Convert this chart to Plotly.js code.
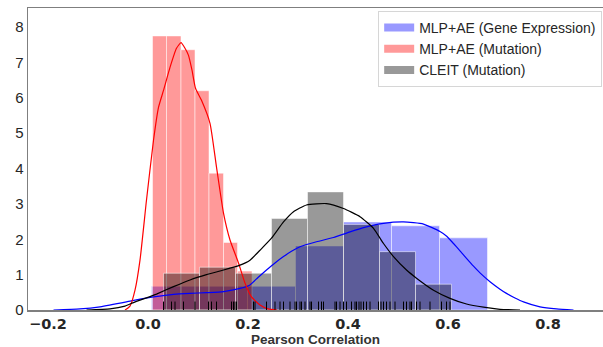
<!DOCTYPE html>
<html>
<head>
<meta charset="utf-8">
<script src="https://cdn.plot.ly/plotly-3.0.1.min.js"></script>
<style>html,body{margin:0;padding:0;background:#fff;}#chart{width:603px;height:347px;}</style>
</head>
<body>
<div id="chart"></div>
<script>
// ---- data ----
const seriesNames = ["MLP+AE (Gene Expression)", "MLP+AE (Mutation)", "CLEIT (Mutation)"];

// histogram bin edges and densities
const geneEdges = [0.007, 0.103, 0.199, 0.295, 0.391, 0.487, 0.583, 0.679];
const geneHeights = [0.67, 0.67, 0.67, 1.81, 2.49, 2.38, 2.04];

const mutEdges = [0.009, 0.037, 0.066, 0.094, 0.122, 0.151, 0.179, 0.208];
const mutHeights = [7.75, 7.75, 7.36, 6.20, 3.87, 1.91, 1.10];

const cleitEdges = [0.031, 0.103, 0.175, 0.247, 0.319, 0.391, 0.463, 0.535, 0.607];
const cleitHeights = [1.04, 1.21, 1.04, 2.59, 3.34, 2.42, 1.65, 0.73];

// KDE curves
const geneKdeX = [-0.189, -0.136, -0.096, -0.043, -0.016, 0.011, 0.051, 0.084, 0.117, 0.151, 0.184, 0.204, 0.220, 0.237, 0.254, 0.271, 0.287, 0.304, 0.337, 0.371, 0.404, 0.437, 0.471, 0.511, 0.551, 0.584, 0.598, 0.611, 0.624, 0.637, 0.651, 0.664, 0.684, 0.704, 0.717, 0.734, 0.751, 0.784, 0.817, 0.851];
const geneKdeY = [0, 0.03, 0.09, 0.23, 0.31, 0.37, 0.44, 0.47, 0.49, 0.52, 0.61, 0.71, 0.92, 1.13, 1.33, 1.51, 1.66, 1.79, 1.93, 2.05, 2.21, 2.35, 2.45, 2.49, 2.43, 2.22, 2.08, 1.88, 1.67, 1.46, 1.24, 1.05, 0.80, 0.59, 0.47, 0.34, 0.23, 0.09, 0.03, 0];

const mutKdeX = [-0.046, -0.036, -0.026, -0.016, -0.003, 0.011, 0.021, 0.031, 0.044, 0.057, 0.066, 0.074, 0.081, 0.088, 0.095, 0.107, 0.124, 0.137, 0.151, 0.164, 0.181, 0.194, 0.207, 0.224, 0.240, 0.258];
const mutKdeY = [0, 0.11, 0.56, 1.41, 3.11, 4.80, 5.73, 6.21, 6.86, 7.40, 7.56, 7.40, 7.20, 6.78, 6.27, 5.93, 5.28, 4.04, 2.74, 1.98, 1.33, 0.76, 0.37, 0.14, 0.03, 0];

const cleitKdeX = [-0.123, -0.076, -0.046, -0.029, -0.016, 0.004, 0.017, 0.051, 0.084, 0.117, 0.151, 0.184, 0.204, 0.224, 0.247, 0.271, 0.291, 0.317, 0.357, 0.391, 0.424, 0.451, 0.471, 0.491, 0.517, 0.537, 0.571, 0.604, 0.637, 0.671, 0.704, 0.744];
const cleitKdeY = [0, 0.03, 0.11, 0.21, 0.28, 0.38, 0.45, 0.66, 0.85, 1.00, 1.13, 1.27, 1.41, 1.69, 2.03, 2.49, 2.78, 2.97, 3.01, 2.87, 2.64, 2.31, 1.88, 1.51, 1.13, 0.90, 0.56, 0.33, 0.17, 0.08, 0.02, 0];

// rug (CLEIT mutation observations)
const cleitRug = [0.031, 0.047, 0.054, 0.071, 0.094, 0.121, 0.127, 0.137, 0.167, 0.171, 0.174, 0.177, 0.211, 0.214, 0.237, 0.254, 0.264, 0.271, 0.284, 0.294, 0.297, 0.304, 0.307, 0.314, 0.324, 0.327, 0.341, 0.347, 0.351, 0.374, 0.377, 0.384, 0.391, 0.397, 0.407, 0.414, 0.417, 0.422, 0.426, 0.431, 0.437, 0.444, 0.461, 0.466, 0.471, 0.477, 0.484, 0.494, 0.511, 0.517, 0.524, 0.527, 0.537, 0.544, 0.564, 0.587, 0.597, 0.604];

const xTickVals = [-0.2, 0.0, 0.2, 0.4, 0.6, 0.8];
const xTickText = ["\u22120.2", "0.0", "0.2", "0.4", "0.6", "0.8"];
const yTickVals = [0, 1, 2, 3, 4, 5, 6, 7, 8];

// ---- styling ----
const fillColors = ["rgba(0,0,255,0.4)", "rgba(255,0,0,0.4)", "rgba(0,0,0,0.4)"];
const lineColors = ["#0000ff", "#ff0000", "#000000"];

function histTrace(edges, heights, color) {
  const x = [], w = [];
  for (let i = 0; i < heights.length; i++) {
    x.push((edges[i] + edges[i + 1]) / 2);
    w.push(edges[i + 1] - edges[i]);
  }
  return {
    type: "bar", x: x, y: heights, width: w, showlegend: false, hoverinfo: "skip",
    marker: { color: color, line: { color: "rgba(255,255,255,0.5)", width: 1 } }
  };
}
function kdeTrace(x, y, color) {
  return { type: "scatter", mode: "lines", x: x, y: y, showlegend: false, hoverinfo: "skip",
           line: { color: color, width: 1.2, shape: "spline", smoothing: 0.5 } };
}
function legendTrace(name, color) {
  return { type: "scatter", mode: "lines", x: [null], y: [null], name: name,
           line: { color: color, width: 8 } };
}

const data = [
  histTrace(geneEdges, geneHeights, fillColors[0]),
  histTrace(mutEdges, mutHeights, fillColors[1]),
  histTrace(cleitEdges, cleitHeights, fillColors[2]),
  kdeTrace(geneKdeX, geneKdeY, lineColors[0]),
  kdeTrace(mutKdeX, mutKdeY, lineColors[1]),
  kdeTrace(cleitKdeX, cleitKdeY, lineColors[2]),
  { type: "scatter", mode: "markers", x: cleitRug, y: cleitRug.map(() => 0.1), showlegend: false, hoverinfo: "skip",
    marker: { symbol: "line-ns-open", size: 7, color: "#000", line: { color: "#000", width: 1 } } },
  legendTrace(seriesNames[0], fillColors[0]),
  legendTrace(seriesNames[1], fillColors[1]),
  legendTrace(seriesNames[2], fillColors[2])
];

const layout = {
  width: 603, height: 347,
  margin: { l: 28, r: 0, t: 8, b: 37 },
  paper_bgcolor: "#fff", plot_bgcolor: "#fff",
  barmode: "overlay", bargap: 0,
  font: { family: "Liberation Sans, Arial, sans-serif", color: "#262626" },
  xaxis: {
    range: [-0.24, 0.91], tickvals: xTickVals, ticktext: xTickText,
    showgrid: false, zeroline: false, showline: true, mirror: true, linecolor: "#7f7f7f", linewidth: 1.5,
    ticks: "", tickfont: { family: "DejaVu Sans, sans-serif", size: 14.5, weight: "bold", color: "#262626" },
    title: { text: "Pearson Correlation", font: { size: 13.5, weight: "bold", color: "#333" }, standoff: 6 }
  },
  yaxis: {
    range: [0, 8.54], tickvals: yTickVals,
    showgrid: false, zeroline: false, showline: true, mirror: true, linecolor: "#7f7f7f", linewidth: 1.5,
    ticks: "", tickfont: { size: 15, color: "#262626" }
  },
  legend: {
    x: 0.609, y: 0.99, xanchor: "left", yanchor: "top",
    bgcolor: "#fff", bordercolor: "#d6d6d6", borderwidth: 1,
    font: { size: 14, color: "#262626" }
  },
  showlegend: true
};

Plotly.newPlot("chart", data, layout, { displayModeBar: false, staticPlot: true });
</script>
</body>
</html>
